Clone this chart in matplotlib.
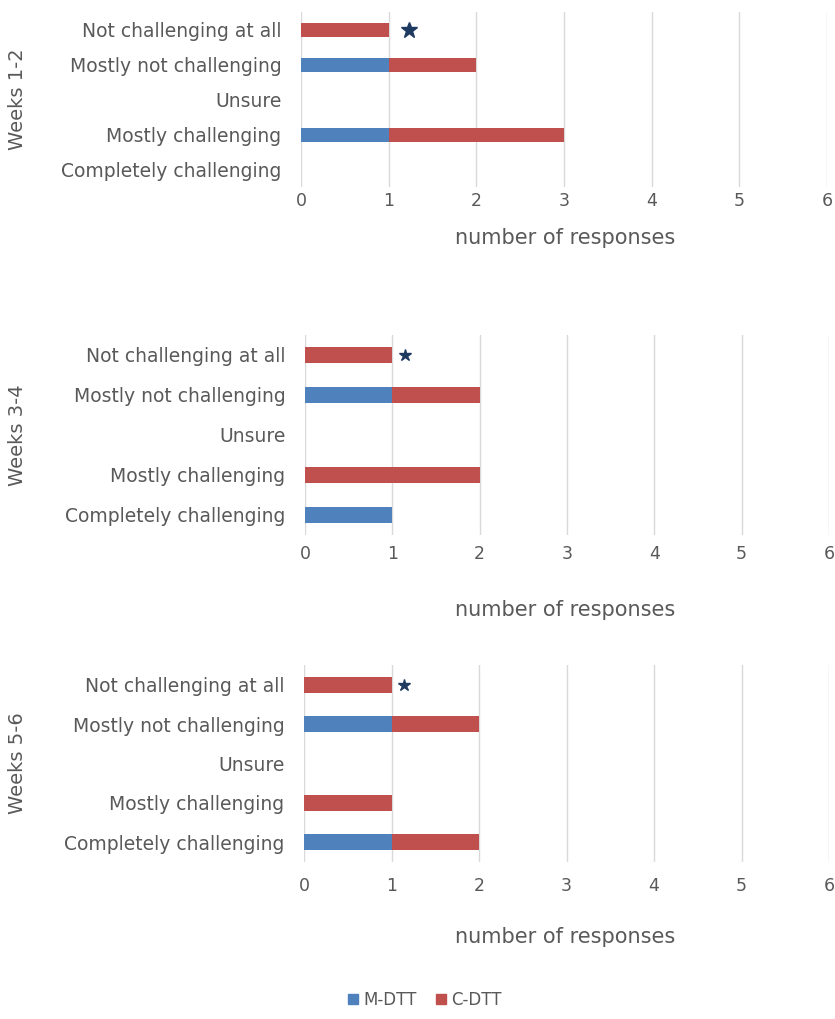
import matplotlib.pyplot as plt
from matplotlib.patches import Patch

categories = ['Not challenging at all', 'Mostly not challenging', 'Unsure',
              'Mostly challenging', 'Completely challenging']
periods = ['Weeks 1-2', 'Weeks 3-4', 'Weeks 5-6']
m_dtt = [[0, 1, 0, 1, 0],
         [0, 1, 0, 0, 1],
         [0, 1, 0, 0, 1]]
c_dtt = [[1, 1, 0, 2, 0],
         [1, 1, 0, 2, 0],
         [1, 1, 0, 1, 1]]
star_x = [1.23, 1.15, 1.14]
xticks = [0, 1, 2, 3, 4, 5, 6]

BLUE = '#4F81BD'
RED = '#C0504D'
TXT = '#595959'
plt.rcParams['font.family'] = ['DejaVu Sans']

fig = plt.figure(figsize=(8.35, 10.19), dpi=100)
H = 1019.0
# left px, top px, bottom px, right px, xlabel y px, tick pad px
boxes = [(301, 12, 187, 827, 238, 5),
         (305, 335, 535, 829, 610, 10),
         (304, 665, 862, 829, 937, 15)]

for i, (l, t, b, r, ylab, tpad) in enumerate(boxes):
    ax = fig.add_axes([l / 835, 1 - b / H, (r - l) / 835, (b - t) / H])
    y = list(range(len(categories)))
    ax.barh(y, m_dtt[i], height=0.4, color=BLUE, zorder=3)
    ax.barh(y, c_dtt[i], left=m_dtt[i], height=0.4, color=RED, zorder=3)
    ax.plot(star_x[i], 0, marker='*', color='#1F3A60', ms=12 if i == 0 else 9,
            zorder=4, clip_on=False)
    ax.set_ylim(len(categories) - 0.5, -0.5)
    ax.set_xlim(0, 6)
    ax.set_yticks(y)
    ax.set_yticklabels(categories, fontsize=13.5, color=TXT)
    ax.set_xticks(xticks)
    ax.set_xticklabels([str(v) for v in xticks], fontsize=12.5, color=TXT)
    ax.tick_params(length=0)
    ax.tick_params(axis='x', pad=tpad * 0.72)
    ax.tick_params(axis='y', pad=14)
    ax.grid(axis='x', color='#D9D9D9', lw=1, zorder=0)
    for s in ax.spines.values():
        s.set_visible(False)
    ax.set_xlabel('number of responses', fontsize=15, color=TXT, va='center')
    ax.xaxis.set_label_coords((565 - l) / (r - l), (b - ylab) / (b - t))
    fig.text(18 / 835, 1 - ((t + b) / 2) / H, periods[i], rotation=90,
             ha='center', va='center', fontsize=14, color=TXT)

handles = [Patch(color=BLUE, label='M-DTT'), Patch(color=RED, label='C-DTT')]
fig.legend(handles=handles, loc='center', bbox_to_anchor=(425 / 835, 1 - 1000 / H),
           ncol=2, frameon=False, fontsize=12, handlelength=0.6, handleheight=0.6,
           handletextpad=0.3, columnspacing=1.2, labelcolor=TXT)

fig.savefig('out.png', dpi=100)
